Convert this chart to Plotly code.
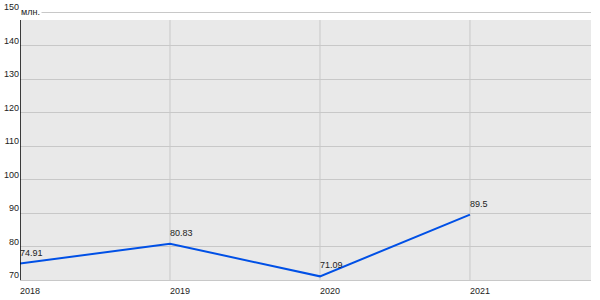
import plotly.graph_objects as go

years = [2018, 2019, 2020, 2021]
values = [74.91, 80.83, 71.09, 89.5]
value_labels = ["74.91", "80.83", "71.09", "89.5"]
y_ticks = [70, 80, 90, 100, 110, 120, 130, 140, 150]
unit_label = "млн."

FONT = "Arial, 'Liberation Sans', sans-serif"
y_min, y_max = 70, 150
grey_top = 147.6
x_max = 2021.807

fig = go.Figure()
fig.add_trace(go.Scatter(
    x=years, y=values, mode="lines",
    line=dict(color="#0050e6", width=2),
    hoverinfo="skip", showlegend=False,
))

shapes = [
    dict(type="rect", xref="x", yref="y", x0=years[0], x1=x_max, y0=y_min, y1=grey_top,
         fillcolor="#e9e9e9", line=dict(width=0), layer="below"),
]
for yr in years[1:]:
    shapes.append(dict(type="line", xref="x", yref="y", x0=yr, x1=yr, y0=y_min, y1=grey_top,
                       line=dict(color="#c8c8c8", width=1), layer="below"))
shapes.append(dict(type="line", xref="x", yref="y", x0=years[0], x1=years[0], y0=y_min, y1=grey_top,
                   line=dict(color="#000000", width=1.5), layer="above"))

annotations = []
for yr, v, lab in zip(years, values, value_labels):
    annotations.append(dict(x=yr, y=v, xref="x", yref="y", text=lab, showarrow=False,
                            xanchor="left", yanchor="middle", yshift=11, xshift=-2,
                            font=dict(family=FONT, size=9, color="#222222")))
annotations.append(dict(x=0, y=y_max, xref="paper", yref="y", text=unit_label, showarrow=False,
                        xanchor="left", yanchor="middle", yshift=0, xshift=-1, bgcolor="#ffffff",
                        font=dict(family=FONT, size=9, color="#222222")))

fig.update_layout(
    width=600, height=300,
    margin=dict(l=20, r=9, t=7, b=20, autoexpand=False),
    paper_bgcolor="#ffffff", plot_bgcolor="#ffffff",
    font=dict(family=FONT, size=9, color="#222222"),
    shapes=shapes, annotations=annotations,
    showlegend=False,
)
fig.update_xaxes(
    range=[years[0], x_max], tickvals=years, ticktext=[str(y) for y in years],
    showgrid=False, zeroline=False, showline=True, linecolor="#c8c8c8", linewidth=1,
    ticks="", ticklabelshift=10, ticklabelstandoff=2, automargin=False,
    tickfont=dict(family=FONT, size=9, color="#222222"),
)
fig.update_yaxes(
    range=[y_min, y_max + 1.5], tickvals=y_ticks,
    showgrid=True, gridcolor="#c8c8c8", gridwidth=1, zeroline=False, showline=False,
    ticks="", ticklabelshift=-5, ticklabelstandoff=0, automargin=False,
    tickfont=dict(family=FONT, size=9, color="#222222"),
)

fig.write_html("out.html")
